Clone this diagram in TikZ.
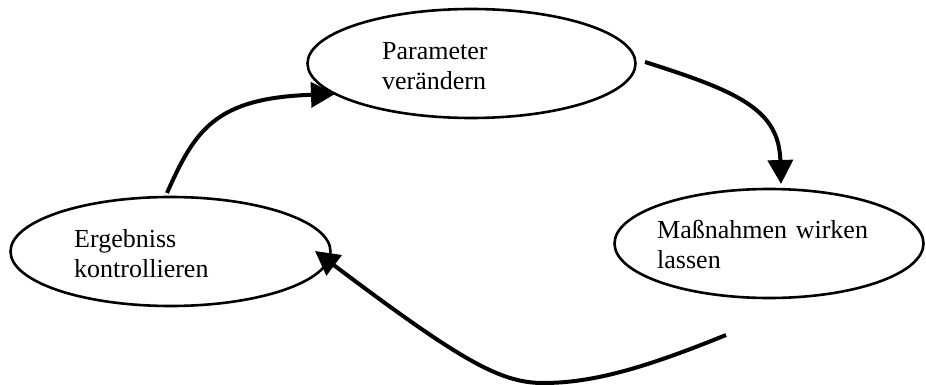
\documentclass[tikz,border=0pt]{standalone}
\usepackage{fontspec}
\setmainfont{Liberation Serif}
\usetikzlibrary{shapes.geometric,arrows.meta}
\tikzset{
  oval/.style={ellipse,draw=black,line width=2.6pt,inner sep=0pt,outer sep=0pt},
  lbl/.style={anchor=base west,inner sep=0pt,align=left,text width=260pt,
    font=\fontsize{26pt}{30pt}\selectfont},
  flow/.style={line width=4pt,-{Triangle[length=24pt,width=25pt]}},
  flowfree/.style={line width=4pt}
}
\begin{document}
\begin{tikzpicture}[x=1pt,y=-1pt]
\useasboundingbox (0,0) rectangle (926,385);
% ellipses
\node[oval,minimum width=328pt,minimum height=109pt] (param) at (471.5,63.5) {};
\node[oval,minimum width=320pt,minimum height=109pt] (erg) at (170.5,251.5) {};
\node[oval,minimum width=309pt,minimum height=109pt] (mass) at (769,243.5) {};
% texts
\node[lbl] (tparam) at (382,60) {Parameter\\verändern};
\node[lbl] (terg) at (74,247) {Ergebniss\\kontrollieren};
\node[lbl] (tmass) at (657,238) {Maßnahmen wirken\\lassen};
% connector end points
\coordinate (a1) at (167,193);
\coordinate (a2) at (335,94);
\coordinate (b1) at (645,62);
\coordinate (b2) at (781,184);
\coordinate (c1) at (726,335);
\coordinate (c2) at (543,383);
\coordinate (c3) at (315,251);
% connectors
\draw[flow] (a1) .. controls (195,130) and (215,98) .. (a2);
\draw[flow] (b1) .. controls (740,92) and (779,110) .. (b2);
\draw[flowfree] (c1) .. controls (640,370) and (590,383) .. (c2);
\draw[flow] (c2) .. controls (500,383) and (460,360) .. (c3);
\end{tikzpicture}
\end{document}
